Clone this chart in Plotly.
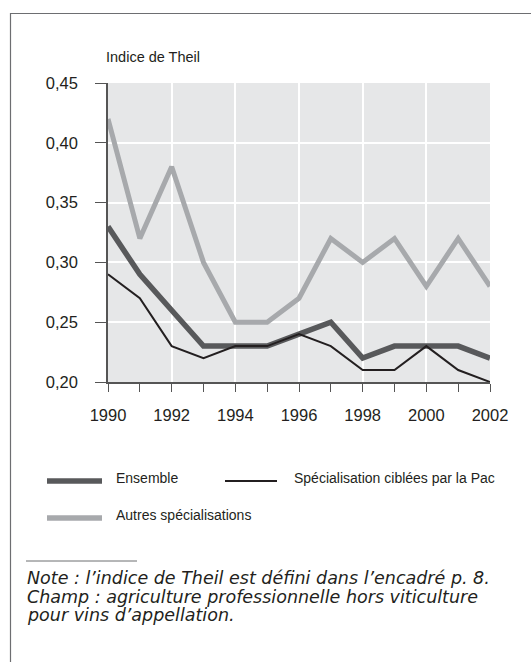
import plotly.graph_objects as go

years = list(range(1990, 2003))
ensemble = [0.33, 0.29, 0.26, 0.23, 0.23, 0.23, 0.24, 0.25, 0.22, 0.23, 0.23, 0.23, 0.22]
pac = [0.29, 0.27, 0.23, 0.22, 0.23, 0.23, 0.24, 0.23, 0.21, 0.21, 0.23, 0.21, 0.20]
autres = [0.42, 0.32, 0.38, 0.30, 0.25, 0.25, 0.27, 0.32, 0.30, 0.32, 0.28, 0.32, 0.28]
y_ticks = [0.20, 0.25, 0.30, 0.35, 0.40, 0.45]
x_label_ticks = list(range(1990, 2003, 2))

C_ENS = "#58595b"
C_PAC = "#231f20"
C_AUT = "#a7a9ac"
FONT = "Liberation Sans, Arial, sans-serif"
NOTE_FONT = "DejaVu Sans, Liberation Sans, sans-serif"

W, H = 531, 662
ML, MR, MT, MB = 108, 41, 83, 280

fig = go.Figure()
fig.add_trace(go.Scatter(x=years, y=autres, mode="lines", name="Autres spécialisations",
                         line=dict(color=C_AUT, width=5), cliponaxis=False, showlegend=False))
fig.add_trace(go.Scatter(x=years, y=ensemble, mode="lines", name="Ensemble",
                         line=dict(color=C_ENS, width=5.5), cliponaxis=False, showlegend=False))
fig.add_trace(go.Scatter(x=years, y=pac, mode="lines", name="Spécialisation ciblées par la Pac",
                         line=dict(color=C_PAC, width=2), cliponaxis=False, showlegend=False))

fig.update_xaxes(range=[1990, 2002], tickvals=x_label_ticks, ticks="outside", ticklen=8,
                 tickcolor="#555", tickwidth=1.2, showgrid=True, gridcolor="white", gridwidth=1.5,
                 showline=True, linecolor="#555", linewidth=1.5, zeroline=False,
                 ticklabelstandoff=9,
                 minor=dict(dtick=1, ticks="outside", ticklen=8, tickcolor="#555", tickwidth=1.2,
                            showgrid=False),
                 tickfont=dict(family=FONT, size=16.5, color="#231f20"))
fig.update_yaxes(range=[0.20, 0.45], tickvals=y_ticks, tickformat=".2f", ticks="outside",
                 ticklen=11, tickcolor="#555", tickwidth=1.2, showgrid=True, gridcolor="white",
                 gridwidth=1.5, showline=True, linecolor="#555", linewidth=1.5, zeroline=False,
                 ticklabelstandoff=14,
                 tickfont=dict(family=FONT, size=16.5, color="#231f20"))

def px_x(p):
    return (p - ML) / (W - ML - MR)

def px_y(p):
    return 1 - (p - MT) / (H - MT - MB)

shapes = []
annotations = []

# outer frame
shapes.append(dict(type="rect", xref="paper", yref="paper", x0=px_x(10.5), x1=px_x(560),
                   y0=px_y(700), y1=px_y(13.5), line=dict(color="#6d6e71", width=1.2)))

annotations.append(dict(text="Indice de Theil", xref="paper", yref="paper", x=px_x(104), y=px_y(57),
                        xanchor="left", yanchor="middle", showarrow=False,
                        font=dict(family=FONT, size=14.5, color="#231f20")))

# legend
legend_items = [
    ("Ensemble", C_ENS, 5.5, 47, 102, 114, 478),
    ("Spécialisation ciblées par la Pac", C_PAC, 2, 225, 277, 292, 478),
    ("Autres spécialisations", C_AUT, 5.5, 47, 102, 114, 515),
]
for name, col, w, x0, x1, tx, ty in legend_items:
    shapes.append(dict(type="line", xref="paper", yref="paper", x0=px_x(x0), x1=px_x(x1),
                       y0=px_y(ty + 3), y1=px_y(ty + 3), line=dict(color=col, width=w)))
    annotations.append(dict(text=name, xref="paper", yref="paper", x=px_x(tx), y=px_y(ty),
                            xanchor="left", yanchor="middle", showarrow=False,
                            font=dict(family=FONT, size=14, color="#231f20")))

# footnote
shapes.append(dict(type="line", xref="paper", yref="paper", x0=px_x(26), x1=px_x(137),
                   y0=px_y(561), y1=px_y(561), line=dict(color="#6d6e71", width=1)))
notes = ["Note : l’indice de Theil est défini dans l’encadré p. 8.",
         "Champ : agriculture professionnelle hors viticulture",
         "pour vins d’appellation."]
for i, t in enumerate(notes):
    annotations.append(dict(text="<i>" + t + "</i>", xref="paper", yref="paper", x=px_x(25),
                            y=px_y(578 + 18.7 * i), xanchor="left", yanchor="middle",
                            showarrow=False,
                            font=dict(family=NOTE_FONT, size=17.5, color="#231f20")))

fig.update_layout(width=W, height=H, margin=dict(l=ML, r=MR, t=MT, b=MB, autoexpand=False),
                  paper_bgcolor="white", plot_bgcolor="#e6e7e8", separators=", ",
                  shapes=shapes, annotations=annotations, showlegend=False)

fig.write_html("out.html", config={"displayModeBar": False},
               post_script="document.body.style.margin='0';")
